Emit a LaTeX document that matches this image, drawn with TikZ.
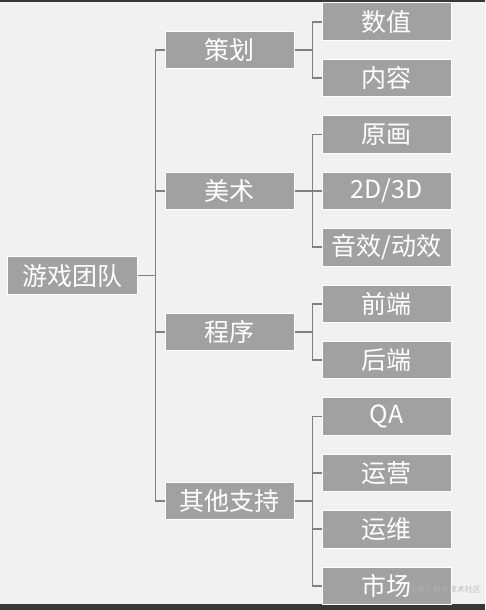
\documentclass[tikz,border=0pt]{standalone}
\usepackage{fontspec}
\usepackage{xcolor}
\usepackage{tikz}
\newfontfamily\cjk{Noto Sans CJK SC}
\definecolor{figback}{RGB}{241,241,241}
\definecolor{figbar}{RGB}{55,55,55}
\definecolor{figbox}{RGB}{161,161,161}
\definecolor{figline}{RGB}{128,128,128}
\tikzset{
  bx/.style  ={fill=figbox, draw=white, line width=1pt, text=white, inner sep=0pt,
               font=\cjk\fontsize{25}{25}\selectfont, minimum height=37.5pt},
  bxr/.style ={bx, minimum width=130pt},
  bxa/.style ={bx, minimum width=129pt},
  bxb/.style ={bx, minimum width=129pt},
  conn/.style={draw=figline, line width=1.8pt},
}

\begin{document}
\begin{tikzpicture}[x=1pt,y=-1pt]
  \useasboundingbox (0,0) rectangle (485,610);
  \fill[figback] (0,0) rectangle (485,610);
  \fill[figbar] (0,0) rectangle (485,2);
  \fill[figbar] (0,604) rectangle (485,610);
  % root
  \node[bxr] (team) at (72,275.55) {游戏团队};
  % level one
  \node[bxa] (plan) at (229.5,49.95)  {策划};
  \node[bxa] (art)  at (229.5,190.95) {美术};
  \node[bxa] (prog) at (229.5,331.95) {程序};
  \node[bxa] (supp) at (229.5,501.15) {其他支持};
  % level two
  \node[bxb] (num)   at (386.5,21.75)  {数值};
  \node[bxb] (cont)  at (386.5,78.15)  {内容};
  \node[bxb] (orig)  at (386.5,134.55) {原画};
  \node[bxb] (twod)  at (386.5,190.95) {2D/3D};
  \node[bxb] (sound) at (386.5,247.35) {音效/动效};
  \node[bxb] (front) at (386.5,303.75) {前端};
  \node[bxb] (back)  at (386.5,360.15) {后端};
  \node[bxb] (qa)    at (386.5,416.55) {QA};
  \node[bxb] (ops)   at (386.5,472.95) {运营};
  \node[bxb] (maint) at (386.5,529.35) {运维};
  \node[bxb] (mkt)   at (386.5,585.75) {市场};
  % connectors
  \foreach \c in {plan,art,prog,supp}
    \draw[conn] (team.east) -- ++(18,0) |- (\c.west);
  \foreach \c in {num,cont}
    \draw[conn] (plan.east) -- ++(18,0) |- (\c.west);
  \foreach \c in {orig,twod,sound}
    \draw[conn] (art.east) -- ++(18,0) |- (\c.west);
  \foreach \c in {front,back}
    \draw[conn] (prog.east) -- ++(18,0) |- (\c.west);
  \foreach \c in {qa,ops,maint,mkt}
    \draw[conn] (supp.east) -- ++(18,0) |- (\c.west);
  % watermark
  \node[font=\cjk\fontsize{8}{8}\selectfont, text=black!30, opacity=0.85,
    inner sep=0pt, anchor=east] (mark) at (481,590) {@稀土掘金技术社区};
\end{tikzpicture}
\end{document}
